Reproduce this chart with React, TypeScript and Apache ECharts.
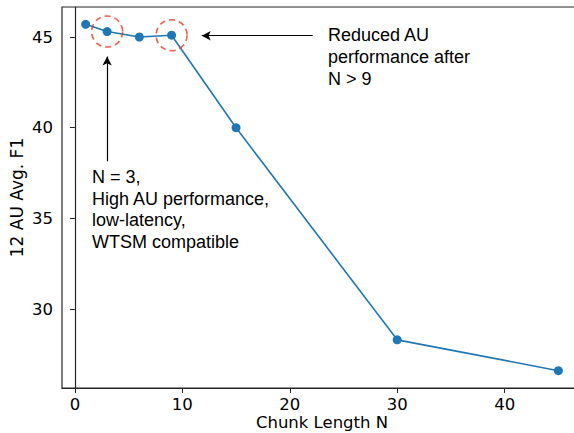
import React, { useEffect, useRef } from "react";
import * as echarts from "echarts";

const chunkLengths = [1, 3, 6, 9, 15, 30, 45];
const avgF1 = [45.7, 45.3, 45.0, 45.1, 40.0, 28.3, 26.6];
const xTicks = [0, 10, 20, 30, 40];
const yTicks = [30, 35, 40, 45];
const highlighted = [
  [3, 45.3],
  [9, 45.1],
];
// arrows: [from, to] in data coordinates
const arrowUp = [
  [3, 38.15],
  [3, 43.92],
];
const arrowLeft = [
  [22.14, 45.07],
  [11.81, 45.07],
];
const noteLeft = ["N = 3,", "High AU performance,", "low-latency,", "WTSM compatible"];
const noteRight = ["Reduced AU", "performance after", "N > 9"];

export default function App() {
  const ref = useRef<HTMLDivElement>(null);
  useEffect(() => {
    if (!ref.current) return;
    const chart = echarts.init(ref.current, undefined, { renderer: "svg" });
    const tickFont = { fontFamily: "DejaVu Sans", fontSize: 16.5, color: "#000" };
    const axisLine = { show: true, lineStyle: { color: "#262626", width: 1.2 } };
    chart.setOption({
      animation: false,
      backgroundColor: "#fff",
      grid: {
        left: 62,
        top: 7,
        width: 520,
        height: 381,
        containLabel: false,
        outerBoundsMode: "none",
        show: true,
        borderColor: "#262626",
        borderWidth: 1.2,
        backgroundColor: "transparent",
      },
      xAxis: {
        type: "value",
        min: -1.2,
        max: 47.2,
        name: "Chunk Length N",
        nameLocation: "middle",
        nameGap: 26,
        nameMoveOverlap: false,
        nameTextStyle: { fontFamily: "DejaVu Sans", fontSize: 16.5, color: "#000" },
        axisLine,
        axisTick: { show: true, length: 5, customValues: xTicks, lineStyle: { color: "#262626" } },
        axisLabel: { ...tickFont, margin: 8, customValues: xTicks },
        splitLine: { show: false },
      },
      yAxis: {
        type: "value",
        min: 25.645,
        max: 46.655,
        name: "12 AU Avg. F1",
        nameLocation: "middle",
        nameGap: 37,
        nameMoveOverlap: false,
        nameTextStyle: { fontFamily: "DejaVu Sans", fontSize: 17, color: "#000" },
        axisLine,
        axisTick: { show: true, length: 5, customValues: yTicks, lineStyle: { color: "#262626" } },
        axisLabel: { ...tickFont, margin: 9, customValues: yTicks },
        splitLine: { show: false },
      },
      series: [
        {
          type: "line",
          data: chunkLengths.map((n, i) => [n, avgF1[i]]),
          symbol: "circle",
          symbolSize: 9,
          lineStyle: { color: "#1f77b4", width: 1.6 },
          itemStyle: { color: "#1f77b4" },
          z: 3,
        },
        {
          type: "scatter",
          data: highlighted,
          symbol: "circle",
          symbolSize: 31,
          silent: true,
          itemStyle: {
            color: "none",
            borderColor: "#e8381c",
            borderWidth: 1.6,
            borderType: [6, 4],
          },
          z: 4,
          markLine: {
            silent: true,
            symbol: ["none", "arrow"],
            symbolSize: [7, 9],
            label: { show: false },
            lineStyle: { color: "#000", width: 1.2, type: "solid" },
            data: [
              [{ coord: arrowUp[0] }, { coord: arrowUp[1] }],
              [{ coord: arrowLeft[0] }, { coord: arrowLeft[1] }],
            ],
          },
        },
      ],
      graphic: [
        {
          type: "text",
          left: 92,
          top: 166,
          style: {
            text: noteLeft.join("\n"),
            fontFamily: "Liberation Sans",
            fontSize: 18,
            lineHeight: 21.7,
            fill: "#000",
          },
        },
        {
          type: "text",
          left: 328,
          top: 24,
          style: {
            text: noteRight.join("\n"),
            fontFamily: "Liberation Sans",
            fontSize: 18,
            lineHeight: 22,
            fill: "#000",
          },
        },
      ],
    });
    return () => chart.dispose();
  }, []);
  return (
    <div
      ref={ref}
      style={{ position: "absolute", left: 0, top: 0, width: 574, height: 433 }}
    />
  );
}
